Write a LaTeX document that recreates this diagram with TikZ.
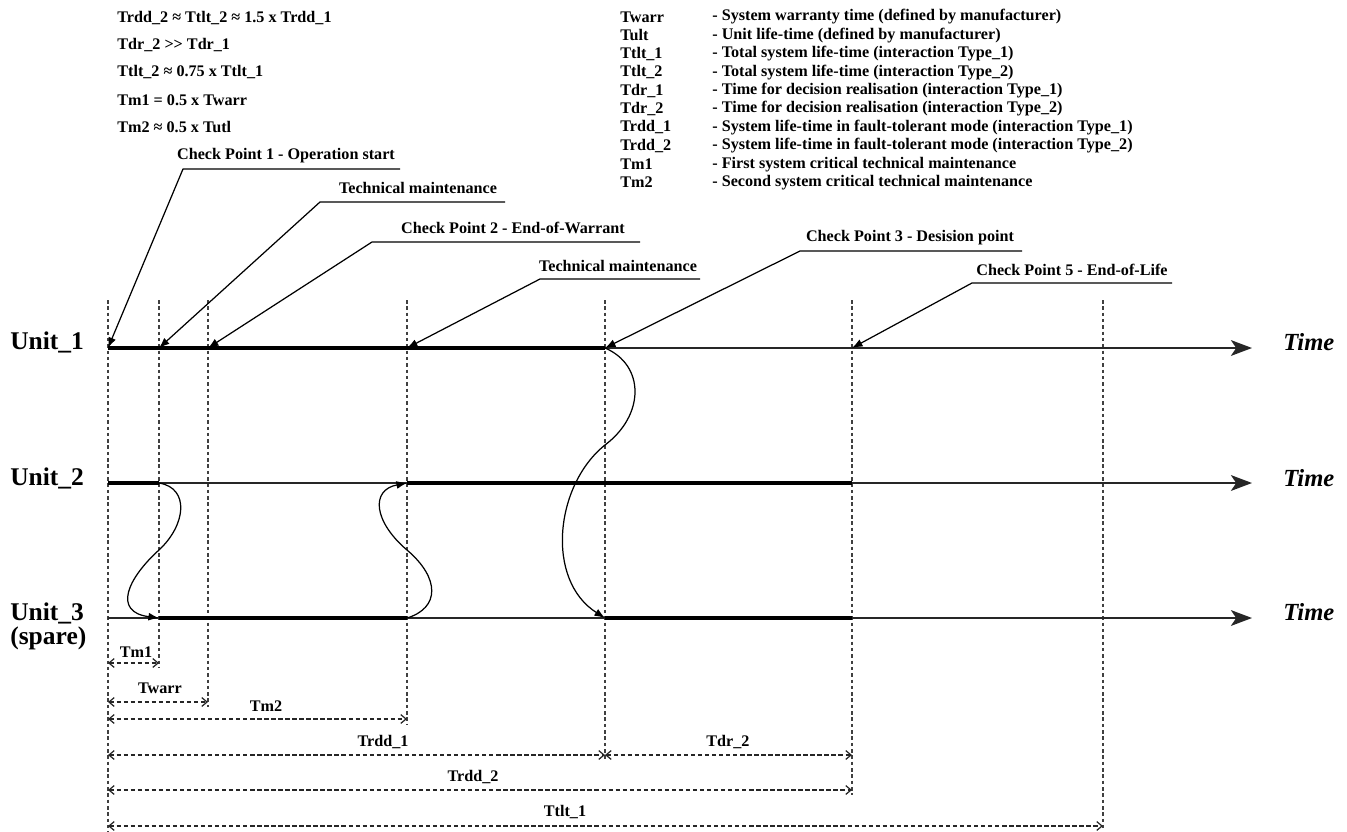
\documentclass[tikz,border=0pt]{standalone}
\usepackage{fontspec}
\setmainfont{Liberation Serif}
\usetikzlibrary{arrows.meta,positioning}
\tikzset{>=latex}
\tikzset{
  txt/.style={font=\fontsize{9.2}{10}\selectfont\bfseries, inner sep=0pt},
  unitlbl/.style={font=\fontsize{14.5}{14}\selectfont\bfseries, inner sep=0pt, align=left},
  timelbl/.style={font=\fontsize{14}{14}\selectfont\bfseries\itshape, inner sep=0pt},
  guide/.style={black!75, line width=0.8pt, dash pattern=on 2pt off 1.6pt},
  axisline/.style={black!85, line width=0.9pt, -{Stealth[length=12pt, width=9pt, inset=3pt]}},
  busy/.style={black, line width=2.6pt},
  callout/.style={black, line width=0.7pt, line join=round, -{Latex[length=6pt, width=4.5pt]}},
  swap/.style={black, line width=0.7pt, -{Latex[length=6pt, width=4.5pt]}},
  dimline/.style={black!85, line width=0.7pt, dash pattern=on 2.5pt off 1.5pt,
    {Straight Barb[length=3pt, width=5pt]}-{Straight Barb[length=3pt, width=5pt]}}
}

\begin{document}
\begin{tikzpicture}[x=0.02cm, y=-0.02cm]
  % --- Definitions ---
  \def\yA{348} % Unit_1 axis
  \def\yB{483} % Unit_2 axis
  \def\yC{618} % Unit_3 axis
  \def\xEnd{1252} % end of the time axes

  \useasboundingbox (0,0) rectangle (1347,832);

  % --- 1. Relations (top left) ---
  \node[txt, anchor=west] (rel1) at (117,18) {Trdd\_2 ≈ Ttlt\_2 ≈ 1.5 x Trdd\_1};
  \node[txt, anchor=west] (rel2) at (117,45) {Tdr\_2 >{}> Tdr\_1};
  \node[txt, anchor=west] (rel3) at (117,72) {Ttlt\_2 ≈ 0.75 x Ttlt\_1};
  \node[txt, anchor=west] (rel4) at (117,100) {Tm1 = 0.5 x Twarr};
  \node[txt, anchor=west] (rel5) at (117,127) {Tm2 ≈ 0.5 x Tutl};

  % --- 2. Legend (top right) ---
  \node[txt, anchor=west] (k1) at (620,17) {Twarr};
  \node[txt, anchor=west] (k2) at (620,35.4) {Tult};
  \node[txt, anchor=west] (k3) at (620,53.8) {Ttlt\_1};
  \node[txt, anchor=west] (k4) at (620,72.2) {Ttlt\_2};
  \node[txt, anchor=west] (k5) at (620,90.6) {Tdr\_1};
  \node[txt, anchor=west] (k6) at (620,109) {Tdr\_2};
  \node[txt, anchor=west] (k7) at (620,127.4) {Trdd\_1};
  \node[txt, anchor=west] (k8) at (620,145.8) {Trdd\_2};
  \node[txt, anchor=west] (k9) at (620,164.2) {Tm1};
  \node[txt, anchor=west] (k10) at (620,182.6) {Tm2};
  \node[txt, anchor=west] (v1) at (712,17) {- System warranty time (defined by manufacturer)};
  \node[txt, anchor=west] (v2) at (712,35.4) {- Unit life-time (defined by manufacturer)};
  \node[txt, anchor=west] (v3) at (712,53.8) {- Total system life-time (interaction Type\_1)};
  \node[txt, anchor=west] (v4) at (712,72.2) {- Total system life-time (interaction Type\_2)};
  \node[txt, anchor=west] (v5) at (712,90.6) {- Time for decision realisation (interaction Type\_1)};
  \node[txt, anchor=west] (v6) at (712,109) {- Time for decision realisation (interaction Type\_2)};
  \node[txt, anchor=west] (v7) at (712,127.4) {- System life-time in fault-tolerant mode (interaction Type\_1)};
  \node[txt, anchor=west] (v8) at (712,145.8) {- System life-time in fault-tolerant mode (interaction Type\_2)};
  \node[txt, anchor=west] (v9) at (712,164.2) {- First system critical technical maintenance};
  \node[txt, anchor=west] (v10) at (712,182.6) {- Second system critical technical maintenance};

  % --- 3. Time marks (dashed guides) ---
  \draw[guide] (108,300) -- (108,832);
  \draw[guide] (159,300) -- (159,668);
  \draw[guide] (208,300) -- (208,707);
  \draw[guide] (407,300) -- (407,724);
  \draw[guide] (605,300) -- (605,760);
  \draw[guide] (852,300) -- (852,795);
  \draw[guide] (1103,300) -- (1103,830);

  % --- 4. Points on the three time axes ---
  \coordinate (u1s) at (108,\yA);  \coordinate (u1m) at (159,\yA);
  \coordinate (u1w) at (208,\yA);  \coordinate (u1n) at (407,\yA);
  \coordinate (u1d) at (605,\yA);  \coordinate (u1l) at (852,\yA);
  \coordinate (u1e) at (\xEnd,\yA);
  \coordinate (u2s) at (108,\yB);  \coordinate (u2m) at (159,\yB);
  \coordinate (u2n) at (407,\yB);  \coordinate (u2l) at (852,\yB);
  \coordinate (u2e) at (\xEnd,\yB);
  \coordinate (u3s) at (108,\yC);  \coordinate (u3m) at (159,\yC);
  \coordinate (u3n) at (407,\yC);  \coordinate (u3d) at (605,\yC);
  \coordinate (u3l) at (852,\yC);  \coordinate (u3e) at (\xEnd,\yC);

  % --- 5. Units and their working periods ---
  \node[unitlbl, anchor=west] (unit1) at (10,342) {Unit\_1};
  \node[unitlbl, anchor=west] (unit2) at (10,478) {Unit\_2};
  \node[unitlbl, anchor=north west] (unit3) at (10,602) {Unit\_3\\(spare)};

  \draw[axisline] (u1s) -- (u1e);
  \draw[axisline] (u2s) -- (u2e);
  \draw[axisline] (u3s) -- (u3e);
  \draw[busy] (u1s) -- (u1d);
  \draw[busy] (u2s) -- (u2m);
  \draw[busy] (u2n) -- (u2l);
  \draw[busy] (u3m) -- (u3n);
  \draw[busy] (u3d) -- (u3l);

  \node[timelbl, anchor=west] (time1) at (1283,342) {Time};
  \node[timelbl, anchor=west] (time2) at (1283,478) {Time};
  \node[timelbl, anchor=west] (time3) at (1283,612) {Time};

  % --- 6. Switch-over between units ---
  \draw[swap] (u2m) .. controls (190,488) and (186,525) .. (159,550)
                    .. controls (128,578) and (112,612) .. (u3m);
  \draw[swap] (u3n) .. controls (440,608) and (440,578) .. (407,550)
                    .. controls (374,522) and (370,490) .. (u2n);
  \draw[swap] (u1d) .. controls (645,365) and (645,415) .. (605,445)
                    .. controls (555,485) and (545,580) .. (u3d);

  % --- 7. Check points ---
  \node[txt] (cp1) at (286,156) {Check Point 1 - Operation start};
  \coordinate (cp1l) at (183,169); \coordinate (cp1r) at (400,169);
  \draw[callout] (cp1r) -- (cp1l) -- (u1s);

  \node[txt] (tm1) at (418,188) {Technical maintenance};
  \coordinate (tm1l) at (320,202); \coordinate (tm1r) at (505,202);
  \draw[callout] (tm1r) -- (tm1l) -- (u1m);

  \node[txt] (cp2) at (513,228) {Check Point 2 - End-of-Warrant};
  \coordinate (cp2l) at (372,242); \coordinate (cp2r) at (640,242);
  \draw[callout] (cp2r) -- (cp2l) -- (u1w);

  \node[txt] (tm2) at (618,266) {Technical maintenance};
  \coordinate (tm2l) at (540,279); \coordinate (tm2r) at (700,279);
  \draw[callout] (tm2r) -- (tm2l) -- (u1n);

  \node[txt] (cp3) at (910,238) {Check Point 3 - Desision point};
  \coordinate (cp3l) at (800,251); \coordinate (cp3r) at (1022,251);
  \draw[callout] (cp3r) -- (cp3l) -- (u1d);

  \node[txt] (cp5) at (1072,270) {Check Point 5 - End-of-Life};
  \coordinate (cp5l) at (972,283); \coordinate (cp5r) at (1172,283);
  \draw[callout] (cp5r) -- (cp5l) -- (u1l);

  % --- 8. Durations ---
  \coordinate (dm1a) at (108,663);  \coordinate (dm1b) at (159,663);
  \draw[dimline] (dm1a) -- (dm1b);
  \node[txt] (ltm1) at (136,652) {Tm1};

  \coordinate (dwa) at (108,702);   \coordinate (dwb) at (208,702);
  \draw[dimline] (dwa) -- (dwb);
  \node[txt] (lwarr) at (160,688) {Twarr};

  \coordinate (dm2a) at (108,719);  \coordinate (dm2b) at (407,719);
  \draw[dimline] (dm2a) -- (dm2b);
  \node[txt] (ltm2) at (266,706) {Tm2};

  \coordinate (dr1a) at (108,755);  \coordinate (dr1b) at (605,755);
  \draw[dimline] (dr1a) -- (dr1b);
  \node[txt] (lrdd1) at (383,742) {Trdd\_1};

  \coordinate (dd2a) at (605,755);  \coordinate (dd2b) at (852,755);
  \draw[dimline] (dd2a) -- (dd2b);
  \node[txt] (ldr2) at (728,742) {Tdr\_2};

  \coordinate (dr2a) at (108,790);  \coordinate (dr2b) at (852,790);
  \draw[dimline] (dr2a) -- (dr2b);
  \node[txt] (lrdd2) at (473,777) {Trdd\_2};

  \coordinate (dt1a) at (108,826);  \coordinate (dt1b) at (1103,826);
  \draw[dimline] (dt1a) -- (dt1b);
  \node[txt] (ltlt1) at (565,812) {Ttlt\_1};
\end{tikzpicture}
\end{document}
